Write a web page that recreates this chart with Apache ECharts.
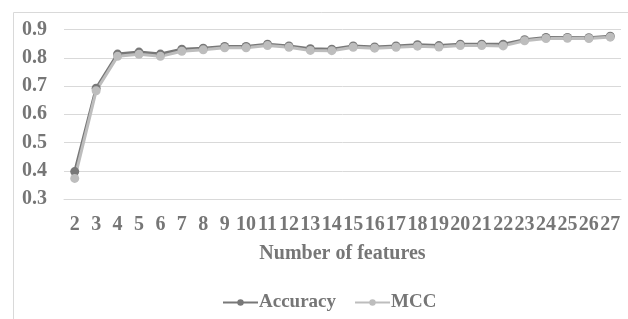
<!DOCTYPE html>
<html><head><meta charset="utf-8">
<script src="https://cdn.jsdelivr.net/npm/echarts@6/dist/echarts.min.js"></script>
<style>html,body{margin:0;padding:0;background:#fff}#c{width:628px;height:319px}</style>
</head><body><div id="c"></div>
<script>
const categories = ['2','3','4','5','6','7','8','9','10','11','12','13','14','15','16','17','18','19','20','21','22','23','24','25','26','27'];
const accuracy = [0.397,0.692,0.813,0.820,0.813,0.830,0.834,0.840,0.840,0.848,0.842,0.832,0.830,0.842,0.838,0.842,0.846,0.843,0.848,0.848,0.848,0.864,0.872,0.872,0.871,0.876];
const mcc = [0.373,0.683,0.805,0.812,0.805,0.823,0.828,0.835,0.835,0.843,0.837,0.826,0.825,0.837,0.834,0.837,0.841,0.838,0.843,0.843,0.842,0.860,0.868,0.869,0.868,0.873];
const txt = '#767676';
const font = '"Liberation Serif","Times New Roman",serif';
const chart = echarts.init(document.getElementById('c'));
chart.setOption({
  animation: false,
  textStyle: {fontFamily: font},
  graphic: [{type:'rect', left:11, top:10, shape:{width:640, height:330}, style:{fill:'none', stroke:'#d9d9d9', lineWidth:1}, silent:true}],
  grid: {left:64, right:7, top:29.5, bottom:120},
  legend: {
    left: 217, top: 288, itemWidth: 35, itemHeight: 8, itemGap: 18,
    textStyle: {color: txt, fontFamily: font, fontWeight: 'bold', fontSize: 19, padding:[0,0,0,-4]},
    data: ['Accuracy','MCC']
  },
  xAxis: {
    type: 'category', data: categories, boundaryGap: true,
    axisLine: {lineStyle: {color: '#d9d9d9'}}, axisTick: {show:false},
    axisLabel: {color: txt, fontFamily: font, fontWeight:'bold', fontSize: 20, margin: 16, interval: 0},
    name: 'Number of features', nameLocation: 'middle', nameGap: 45,
    nameTextStyle: {color: txt, fontFamily: font, fontWeight:'bold', fontSize: 20}
  },
  yAxis: {
    type: 'value', min: 0.3, max: 0.9, interval: 0.1,
    axisLine: {show:false}, axisTick:{show:false},
    splitLine: {lineStyle: {color:'#d9d9d9'}},
    axisLabel: {color: txt, fontFamily: font, fontWeight:'bold', fontSize: 20, margin: 17, formatter: v => v.toFixed(1)}
  },
  series: [
    {name:'Accuracy', type:'line', data: accuracy, symbol:'circle', symbolSize:9,
     itemStyle:{color:'#787878'}, lineStyle:{color:'#787878', width:3}},
    {name:'MCC', type:'line', data: mcc, symbol:'circle', symbolSize:9,
     itemStyle:{color:'#bdbdbd'}, lineStyle:{color:'#bdbdbd', width:3}}
  ]
});
</script></body></html>
